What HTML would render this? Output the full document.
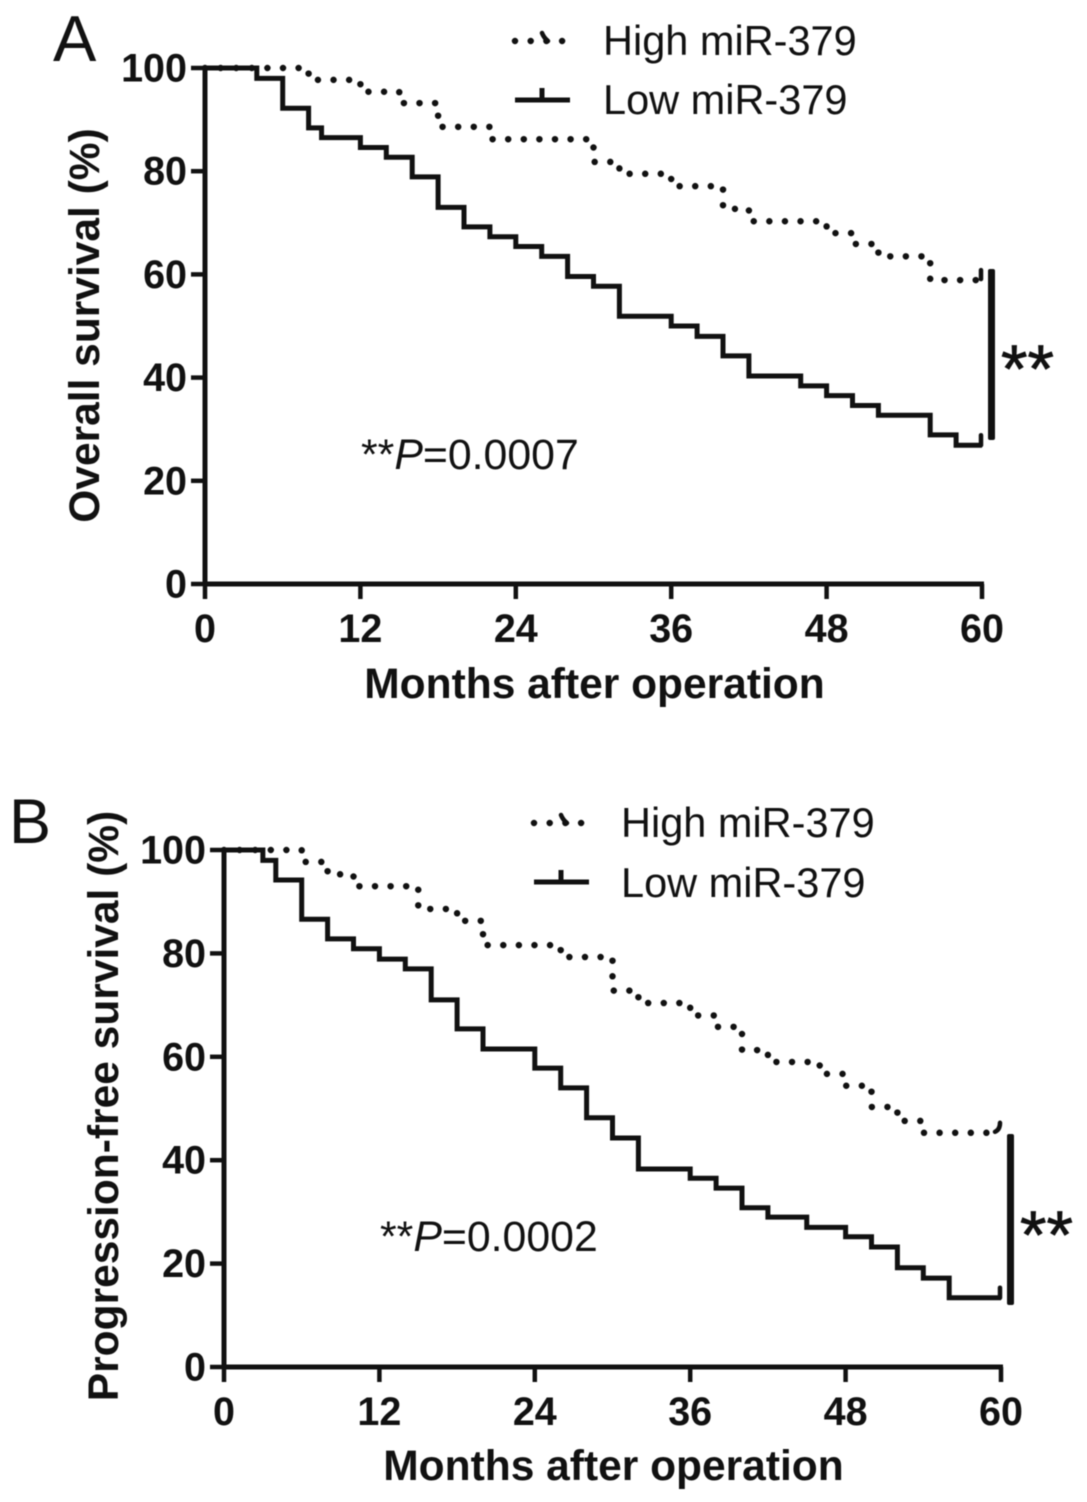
<!DOCTYPE html>
<html lang="en">
<head>
<meta charset="utf-8">
<title>Survival curves by miR-379 expression</title>
<style>
html,body{margin:0;padding:0;background:#fff;width:1087px;height:1502px;overflow:hidden}
svg{display:block;filter:blur(0.5px)}
text{font-family:"Liberation Sans",Arial,sans-serif;fill:#111}
.tick{font-size:39.5px;font-weight:700}
.title{font-size:42.5px;font-weight:700}
.legend{font-size:41.5px}
.pval{font-size:42.8px}
.stars{font-size:68px;stroke:#111;stroke-width:0.8px}
</style>
</head>
<body>
<svg id="figure" xmlns="http://www.w3.org/2000/svg" width="1087" height="1502" viewBox="0 0 1087 1502">
  <g id="panel-a">
    <text font-size="65" x="53" y="61">A</text>
    <text class="title" text-anchor="middle" x="594.5" y="698">Months after operation</text>
    <text class="title" text-anchor="middle" transform="translate(99,325.5) rotate(-90)">Overall survival (%)</text>
    <text class="legend" x="603" y="55">High miR-379</text>
    <text class="legend" x="603" y="114">Low miR-379</text>
    <path d="M515 41H563" fill="none" stroke="#111" stroke-width="6.5" stroke-linecap="round" stroke-dasharray="0 15.7"/>
    <path d="M542 33Q544 38 548 41" fill="none" stroke="#111" stroke-width="4.5" stroke-linecap="round"/>
    <path d="M515 100H570M542 100V88" fill="none" stroke="#111" stroke-width="5"/>
    <text class="pval" x="361" y="469">**<tspan font-style="italic">P</tspan>=0.0007</text>
    <rect x="988" y="269" width="7" height="171" rx="2" fill="#111"/>
    <text class="stars" x="1001" y="392">**</text>
  </g>
  <g id="panel-b">
    <text font-size="63" x="9" y="843">B</text>
    <text class="title" text-anchor="middle" x="613.5" y="1480">Months after operation</text>
    <text class="title" text-anchor="middle" transform="translate(118,1106) rotate(-90)">Progression-free survival (%)</text>
    <text class="legend" x="621" y="837">High miR-379</text>
    <text class="legend" x="621" y="897">Low miR-379</text>
    <path d="M534 823H582" fill="none" stroke="#111" stroke-width="6.5" stroke-linecap="round" stroke-dasharray="0 15.7"/>
    <path d="M561 815Q563 820 567 823" fill="none" stroke="#111" stroke-width="4.5" stroke-linecap="round"/>
    <path d="M534 882H589M561 882V870" fill="none" stroke="#111" stroke-width="5"/>
    <text class="pval" x="380" y="1251">**<tspan font-style="italic">P</tspan>=0.0002</text>
    <rect x="1007" y="1134" width="7" height="171" rx="2" fill="#111"/>
    <text class="stars" x="1020" y="1258">**</text>
  </g>
</svg>
<script>
// Tick labels
const xTicks = [0, 12, 24, 36, 48, 60];
const yTicks = [0, 20, 40, 60, 80, 100];

// Panel A: overall survival (step month, survival %)
const aHighMonths = [0, 8, 12, 15, 18, 22, 30, 32, 36, 40, 42, 48, 50, 52, 56, 60];
const aHighValues = [100, 97.7, 95.4, 93.2, 88.6, 86.2, 81.8, 79.5, 77.1, 72.7, 70.3, 68, 65.9, 63.5, 58.9, 58.9];
const aLowMonths = [0, 4, 6, 8, 9, 12, 14, 16, 18, 20, 22, 24, 26, 28, 30, 32, 36, 38, 40, 42, 46, 48, 50, 52, 56, 58, 60];
const aLowValues = [100, 98, 92.2, 88.4, 86.5, 84.6, 82.7, 78.9, 73, 69.2, 67.3, 65.4, 63.5, 59.6, 57.7, 51.9, 50, 48, 44.2, 40.3, 38.4, 36.5, 34.6, 32.7, 28.9, 26.9, 26.9];

// Panel B: progression-free survival (step month, survival %)
const bHighMonths = [0, 6, 8, 10, 15, 18, 20, 26, 30, 32, 36, 38, 40, 42, 46, 48, 50, 52, 54, 60];
const bHighValues = [100, 97.7, 95.3, 93, 88.6, 86.3, 81.6, 79.3, 72.8, 70.4, 68, 65.8, 61.3, 59, 56.7, 54.4, 50.3, 47.6, 45.3, 45.3];
const bLowMonths = [0, 3, 4, 6, 8, 10, 12, 14, 16, 18, 20, 24, 26, 28, 30, 32, 36, 38, 40, 42, 45, 48, 50, 52, 54, 56, 60];
const bLowValues = [100, 98, 94.2, 86.6, 82.8, 80.9, 78.9, 77, 71, 65.4, 61.5, 57.8, 54, 48.2, 44.3, 38.3, 36.5, 34.6, 30.8, 29, 27, 25.2, 23.2, 19.2, 17.2, 13.4, 13.4];

const SVGNS = 'http://www.w3.org/2000/svg';

function shape(parent, tag, attrs) {
  const el = document.createElementNS(SVGNS, tag);
  for (const k in attrs) el.setAttribute(k, attrs[k]);
  parent.appendChild(el);
  return el;
}

function stepPath(months, values, xScale, yScale) {
  let d = 'M' + xScale(months[0]) + ' ' + yScale(values[0]);
  for (let i = 1; i < months.length; i++) {
    d += 'H' + xScale(months[i]) + 'V' + yScale(values[i]);
  }
  return d;
}

function drawPanel(groupId, prefix, left, right, top, bottom, high, low, lean) {
  const group = document.getElementById(groupId);
  const xScale = m => left + (right - left) * m / 60;
  const yScale = v => bottom - (bottom - top) * v / 100;

  yTicks.forEach(v => {
    const tick = shape(group, 'path', {d: 'M' + (left - 14) + ' ' + yScale(v) + 'H' + left, stroke: '#111', 'stroke-width': 4.5, fill: 'none'});
    
    
    const label = shape(group, 'text', {class: 'tick', x: left - 18, y: yScale(v) + 13.5, 'text-anchor': 'end'});
    label.textContent = v;
    
    
  });
  xTicks.forEach(m => {
    const tick = shape(group, 'path', {d: 'M' + xScale(m) + ' ' + bottom + 'V' + (bottom + 15), stroke: '#111', 'stroke-width': 4.5, fill: 'none'});
    
    
    const label = shape(group, 'text', {class: 'tick', x: xScale(m), y: bottom + 58, 'text-anchor': 'middle'});
    label.textContent = m;
    
    
  });

  const yAxis = shape(group, 'path', {d: 'M' + left + ' ' + (top - 2) + 'V' + (bottom + 2), stroke: '#111', 'stroke-width': 5, fill: 'none'});
  
  
  const xAxis = shape(group, 'path', {d: 'M' + (left - 2) + ' ' + bottom + 'H' + (right + 2), stroke: '#111', 'stroke-width': 5, fill: 'none'});
  
  

  const highLine = shape(group, 'path', {d: stepPath(high.months, high.values, xScale, yScale), fill: 'none', stroke: '#111', 'stroke-width': 6.5, 'stroke-linecap': 'round', 'stroke-dasharray': '0 15.6'});
  
  
  const highLast = high.values[high.values.length - 1];
  const hx = xScale(60) - 1;
  const hy = yScale(highLast);
  const highCensor = shape(group, 'path', {d: 'M' + (hx - lean) + ' ' + (hy - 1) + 'Q' + hx + ' ' + (hy - 3) + ' ' + hx + ' ' + (hy - 10), fill: 'none', stroke: '#111', 'stroke-width': 4.5, 'stroke-linecap': 'round'});
  
  

  const lowLine = shape(group, 'path', {d: stepPath(low.months, low.values, xScale, yScale), fill: 'none', stroke: '#111', 'stroke-width': 5});
  
  
  const lowLast = low.values[low.values.length - 1];
  const lowCensor = shape(group, 'path', {d: 'M' + (xScale(60) - 1) + ' ' + yScale(lowLast) + 'V' + (yScale(lowLast) - 10), fill: 'none', stroke: '#111', 'stroke-width': 4.5, 'stroke-linecap': 'round'});
  
  
}

drawPanel('panel-a', 'panel-a', 205, 982, 68, 584,
  {months: aHighMonths, values: aHighValues},
  {months: aLowMonths, values: aLowValues}, 0);
drawPanel('panel-b', 'panel-b', 224, 1001, 850, 1367,
  {months: bHighMonths, values: bHighValues},
  {months: bLowMonths, values: bLowValues}, 5);
</script>
</body>
</html>
